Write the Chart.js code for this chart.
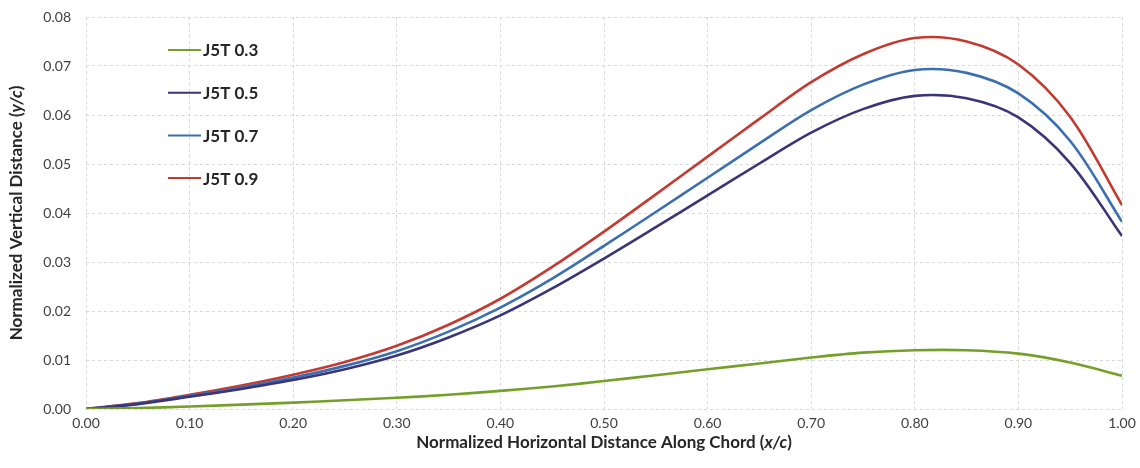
<!DOCTYPE html>
<html>
<head>
<meta charset="utf-8">
<script src="https://cdn.jsdelivr.net/npm/chart.js@4/dist/chart.umd.min.js"></script>
<style>
  html, body { margin: 0; padding: 0; background: #fff; }
  #wrap { width: 1140px; height: 468px; }
</style>
</head>
<body>
<div id="wrap"><canvas id="chart" width="1140" height="468"></canvas></div>
<script>
// x/c stations along the chord
const xStations = [0, 0.05, 0.10, 0.15, 0.20, 0.25, 0.30, 0.35, 0.40, 0.45, 0.50,
                   0.55, 0.60, 0.65, 0.70, 0.75, 0.80, 0.85, 0.90, 0.95, 1.00];

// y/c for each spanwise section
const j5t03 = [0, 0.0002, 0.0005, 0.0009, 0.0013, 0.0018, 0.0023, 0.0029, 0.0037, 0.0046, 0.0057,
               0.0069, 0.0081, 0.0093, 0.0105, 0.0115, 0.0120, 0.0120, 0.0113, 0.0095, 0.0068];
const j5t05 = [0, 0.0010, 0.0025, 0.0041, 0.0059, 0.0081, 0.0109, 0.0146, 0.0191, 0.0246, 0.0307,
               0.0371, 0.0436, 0.0501, 0.0564, 0.0612, 0.0639, 0.0634, 0.0595, 0.0502, 0.0353];
const j5t07 = [0, 0.0011, 0.0027, 0.0044, 0.0064, 0.0088, 0.0118, 0.0158, 0.0207, 0.0266, 0.0333,
               0.0402, 0.0472, 0.0542, 0.0610, 0.0662, 0.0692, 0.0686, 0.0644, 0.0547, 0.0382];
const j5t09 = [0, 0.0012, 0.0029, 0.0048, 0.0070, 0.0096, 0.0129, 0.0172, 0.0225, 0.0290, 0.0362,
               0.0438, 0.0515, 0.0592, 0.0667, 0.0724, 0.0757, 0.0750, 0.0703, 0.0596, 0.0416];

const seriesLabels = ['J5T 0.3', 'J5T 0.5', 'J5T 0.7', 'J5T 0.9'];
const seriesColors = ['#74a02a', '#3a3478', '#3b6fb1', '#c23a30'];

const xTicks = [0, 0.1, 0.2, 0.3, 0.4, 0.5, 0.6, 0.7, 0.8, 0.9, 1.0];
const yTicks = [0, 0.01, 0.02, 0.03, 0.04, 0.05, 0.06, 0.07, 0.08];

const FONT = 'Lato, "Open Sans", sans-serif';
const TEXT = '#404040';

function toPoints(ys) {
  return xStations.map((x, i) => ({ x: x, y: ys[i] }));
}

const allSeries = [j5t03, j5t05, j5t07, j5t09];

// legend drawn inside the plot area, stacked vertically
const insideLegend = {
  id: 'insideLegend',
  afterDraw(chart) {
    const ctx = chart.ctx;
    const area = chart.chartArea;
    ctx.save();
    ctx.font = 'bold 17px ' + FONT;
    ctx.textBaseline = 'middle';
    ctx.textAlign = 'left';
    chart.data.datasets.forEach((ds, i) => {
      const y = area.top + 33 + i * 42.7;
      const x0 = area.left + 82;
      ctx.strokeStyle = ds.borderColor;
      ctx.lineWidth = 2;
      ctx.beginPath();
      ctx.moveTo(x0, y);
      ctx.lineTo(x0 + 33, y);
      ctx.stroke();
      ctx.fillStyle = '#262626';
      ctx.fillText(ds.label, x0 + 35, y + 1);
    });
    ctx.restore();
  }
};

// axis titles with the italic ratio part
function drawMixed(ctx, parts, cx, cy) {
  let total = 0;
  parts.forEach(p => { ctx.font = p.font; total += ctx.measureText(p.text).width; });
  let x = cx - total / 2;
  parts.forEach(p => {
    ctx.font = p.font;
    ctx.fillText(p.text, x, cy);
    x += ctx.measureText(p.text).width;
  });
}

const axisTitles = {
  id: 'axisTitles',
  afterDraw(chart) {
    const ctx = chart.ctx;
    const area = chart.chartArea;
    const bold = 'bold 17px ' + FONT;
    const boldIt = 'italic bold 17px ' + FONT;
    ctx.save();
    ctx.fillStyle = '#262626';
    ctx.textBaseline = 'middle';
    ctx.textAlign = 'left';
    drawMixed(ctx, [
      { text: 'Normalized Horizontal Distance Along Chord (', font: bold },
      { text: 'x/c', font: boldIt },
      { text: ')', font: bold }
    ], (area.left + area.right) / 2, 443);
    ctx.translate(17, (area.top + area.bottom) / 2);
    ctx.rotate(-Math.PI / 2);
    drawMixed(ctx, [
      { text: 'Normalized Vertical Distance (', font: bold },
      { text: 'y/c', font: boldIt },
      { text: ')', font: bold }
    ], 0, 0);
    ctx.restore();
  }
};

const gridStyle = { color: '#d9d9d9', lineWidth: 1, drawTicks: false };

new Chart(document.getElementById('chart'), {
  type: 'line',
  data: {
    datasets: allSeries.map((ys, i) => ({
      label: seriesLabels[i],
      data: toPoints(ys),
      borderColor: seriesColors[i],
      backgroundColor: seriesColors[i],
      borderWidth: 2.6,
      pointRadius: 0,
      tension: 0.33,
      fill: false
    }))
  },
  options: {
    responsive: false,
    animation: false,
    layout: { padding: { top: 17, right: 18, bottom: 0, left: 0 } },
    plugins: {
      legend: { display: false },
      tooltip: { enabled: false }
    },
    scales: {
      x: {
        type: 'linear',
        min: 0,
        max: 1,
        afterBuildTicks: (s) => { s.ticks = xTicks.map(v => ({ value: v })); },
        afterFit: (s) => { s.height = 59; s.paddingLeft = 0; s.paddingRight = 0; },
        grid: gridStyle,
        border: { display: false, dash: [3, 3] },
        ticks: {
          padding: 6,
          color: TEXT,
          font: { family: FONT, size: 14 },
          callback: (v) => Number(v).toFixed(2)
        }
      },
      y: {
        type: 'linear',
        min: 0,
        max: 0.08,
        afterBuildTicks: (s) => { s.ticks = yTicks.map(v => ({ value: v })); },
        afterFit: (s) => { s.width = 86; s.paddingTop = 0; s.paddingBottom = 0; },
        grid: gridStyle,
        border: { display: false, dash: [3, 3] },
        ticks: {
          padding: 15,
          color: TEXT,
          font: { family: FONT, size: 14 },
          callback: (v) => Number(v).toFixed(2)
        }
      }
    }
  },
  plugins: [insideLegend, axisTitles]
});
</script>
</body>
</html>
